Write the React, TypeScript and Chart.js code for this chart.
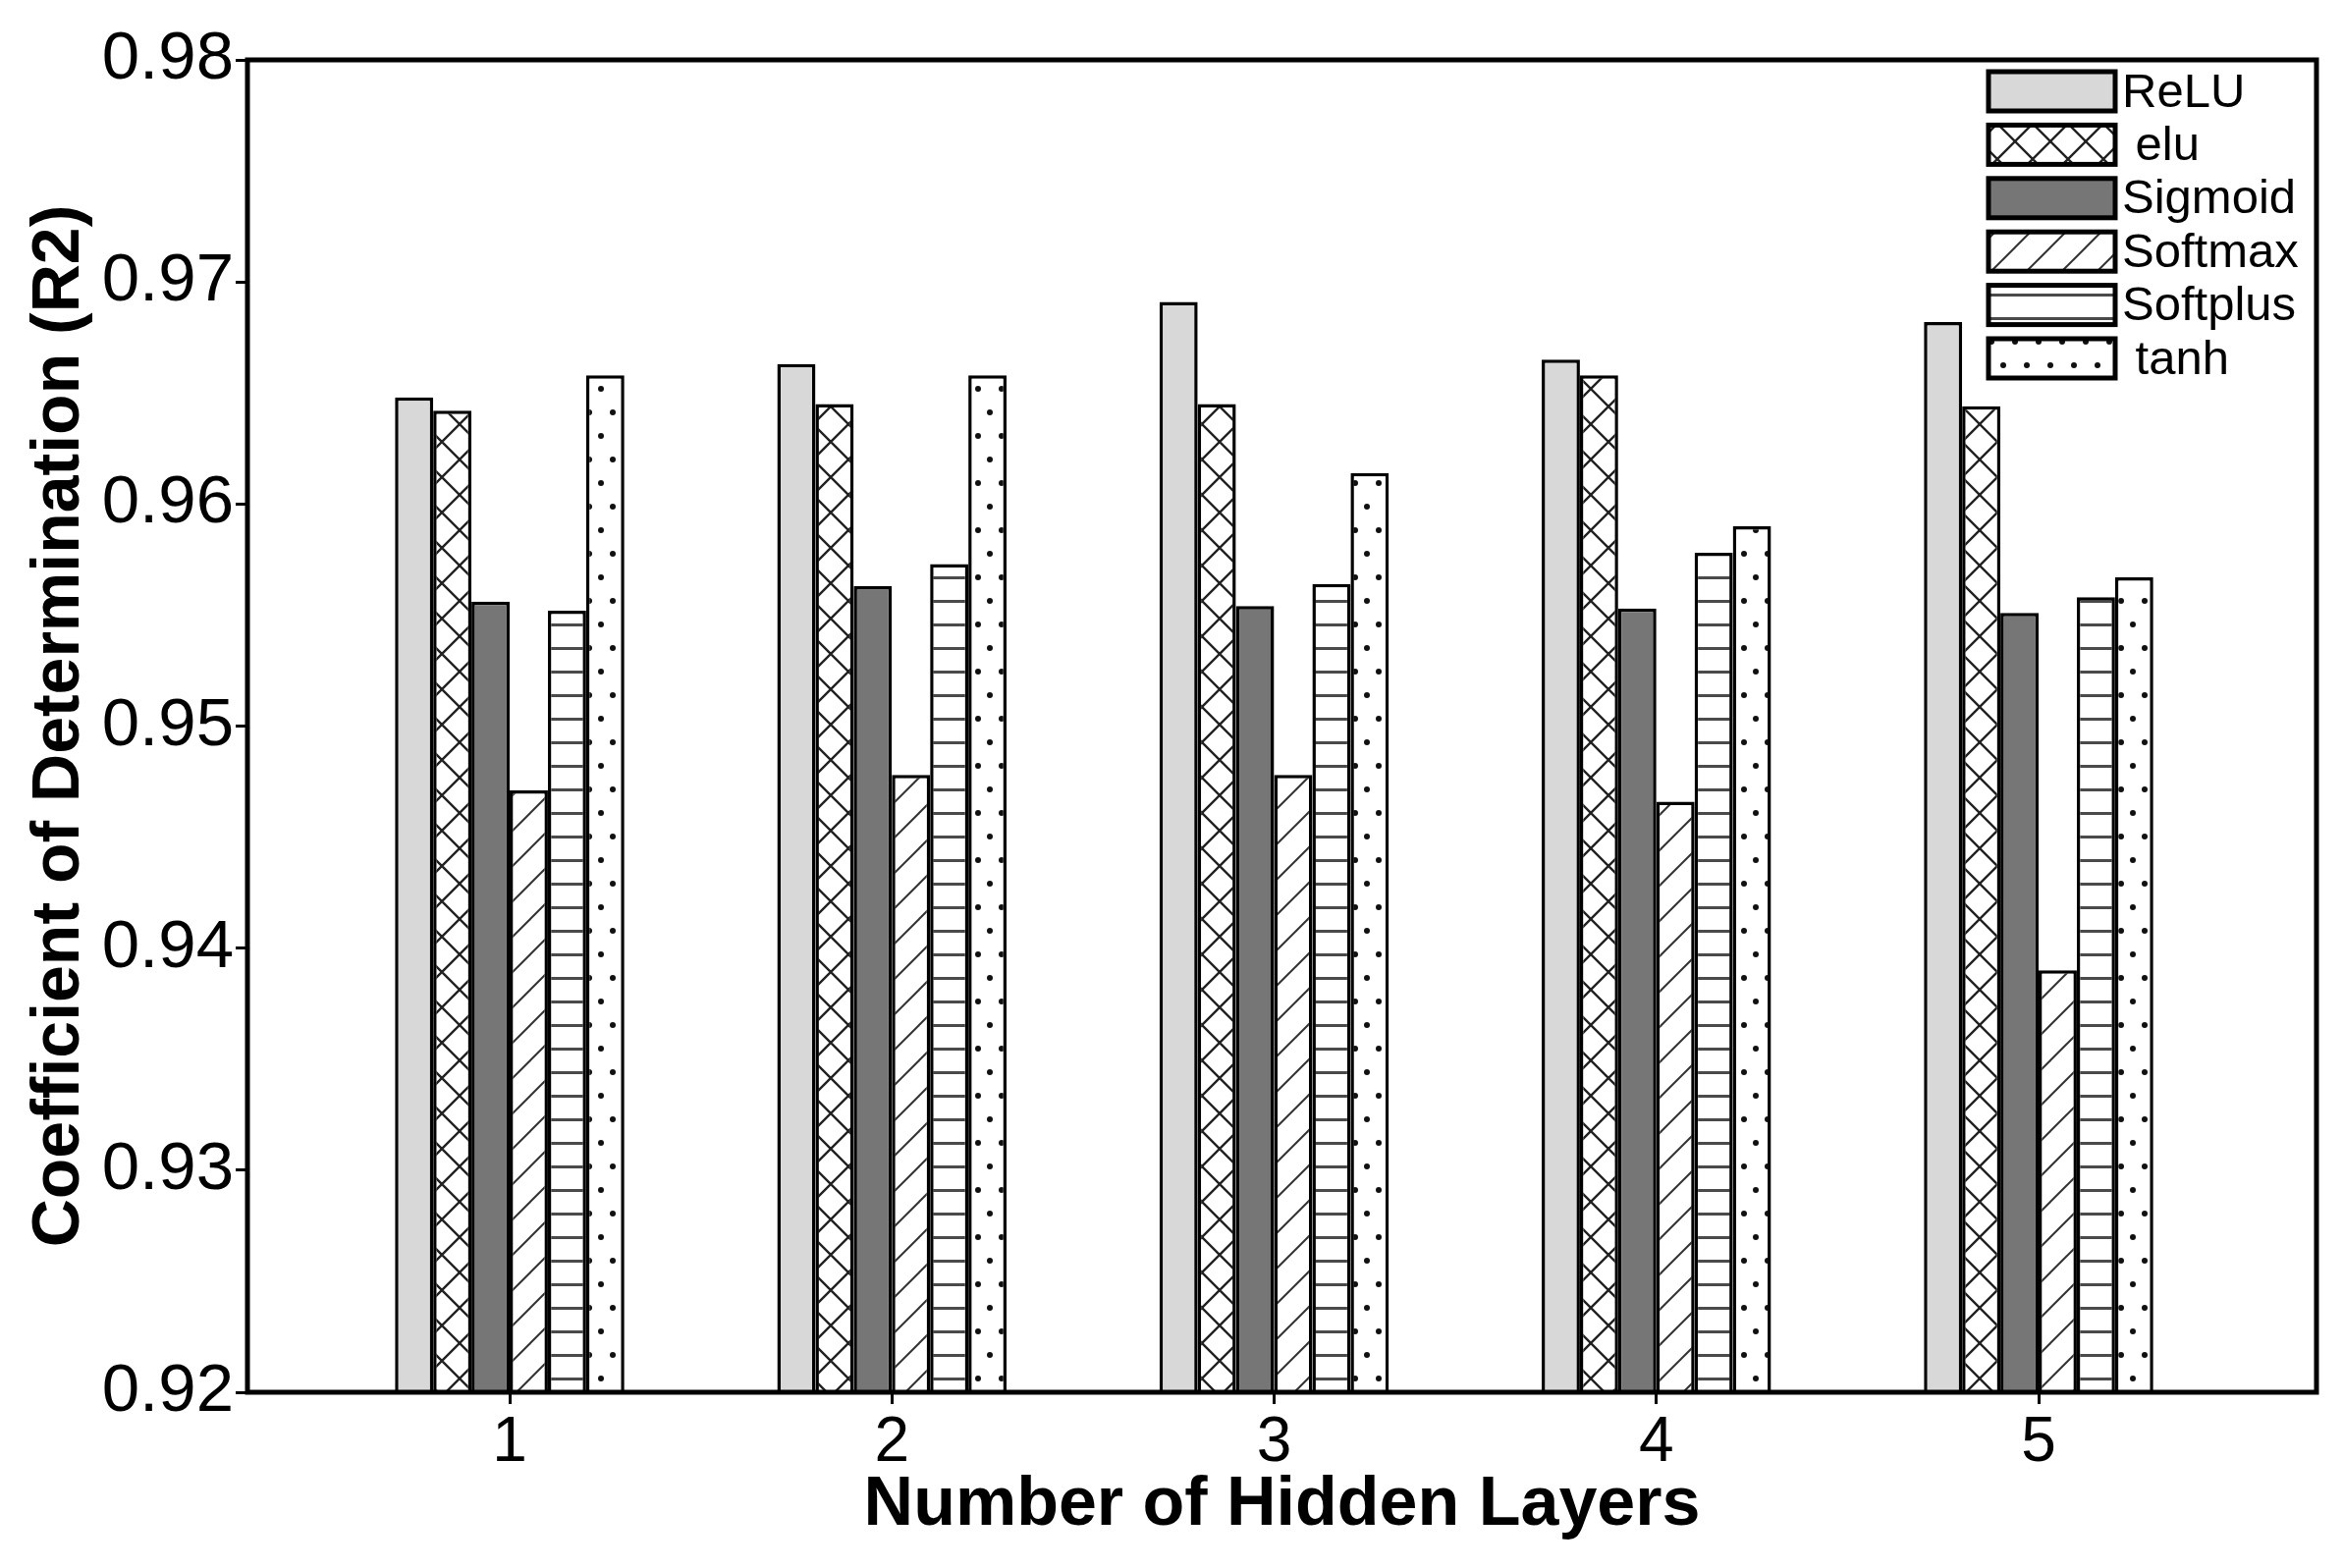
import React, { useEffect, useRef } from "react";
import { Chart, registerables } from "chart.js";

Chart.register(...registerables);

// ---- data ----
const hiddenLayers = [1, 2, 3, 4, 5];
const seriesNames = ["ReLU", " elu", "Sigmoid", "Softmax", "Softplus", " tanh"];
const reluVals = [0.9648, 0.9663, 0.9691, 0.9665, 0.9682];
const eluVals = [0.9642, 0.9645, 0.9645, 0.9658, 0.9644];
const sigmoidVals = [0.9556, 0.9563, 0.9554, 0.9553, 0.9551];
const softmaxVals = [0.9471, 0.9478, 0.9478, 0.9466, 0.939];
const softplusVals = [0.9552, 0.9573, 0.9564, 0.9578, 0.9558];
const tanhVals = [0.9658, 0.9658, 0.9614, 0.959, 0.9567];
const yTickValues = [0.92, 0.93, 0.94, 0.95, 0.96, 0.97, 0.98];
const xTitle = "Number of Hidden Layers";
const yTitle = "Coefficient of Determination (R2)";

const FONT = "'Liberation Sans', Arial, Helvetica, sans-serif";

function tile(w: number, h: number, draw: (c: CanvasRenderingContext2D) => void): CanvasPattern {
  const cv = document.createElement("canvas");
  cv.width = w;
  cv.height = h;
  const c = cv.getContext("2d")!;
  c.fillStyle = "#ffffff";
  c.fillRect(0, 0, w, h);
  draw(c);
  const ctx = document.createElement("canvas").getContext("2d")!;
  return ctx.createPattern(cv, "repeat")!;
}

function makeFills(): (string | CanvasPattern)[] {
  const cross = tile(36, 36, (c) => {
    c.strokeStyle = "#222222";
    c.lineWidth = 2.4;
    for (const o of [-36, 0, 36]) {
      c.beginPath();
      c.moveTo(o - 2, -2);
      c.lineTo(o + 38, 38);
      c.moveTo(o + 38, -2);
      c.lineTo(o - 2, 38);
      c.stroke();
    }
  });
  const diag = tile(36, 36, (c) => {
    c.strokeStyle = "#333333";
    c.lineWidth = 2;
    for (const o of [-36, 0, 36]) {
      c.beginPath();
      c.moveTo(o - 2, 38);
      c.lineTo(o + 38, -2);
      c.stroke();
    }
  });
  const hlines = tile(8, 24, (c) => {
    c.fillStyle = "#4a4a4a";
    c.fillRect(0, 11, 8, 3);
  });
  const dots = tile(24, 48, (c) => {
    c.fillStyle = "#111111";
    const pts = [
      [12, 12],
      [0, 36],
      [24, 36],
    ];
    for (const [x, y] of pts) {
      c.beginPath();
      c.arc(x, y, 3, 0, Math.PI * 2);
      c.fill();
    }
  });
  return ["#d8d8d8", cross, "#767676", diag, hlines, dots];
}

export default function App() {
  const ref = useRef<HTMLCanvasElement | null>(null);

  useEffect(() => {
    if (!ref.current) return;
    const fills = makeFills();
    const seriesVals = [reluVals, eluVals, sigmoidVals, softmaxVals, softplusVals, tanhVals];

    const datasets = seriesVals.map((vals, i) => ({
      label: seriesNames[i],
      data: hiddenLayers.map((x, j) => ({ x, y: vals[j] })),
      backgroundColor: fills[i] as any,
      borderColor: "#000000",
      borderWidth: 3.5,
      borderSkipped: false as any,
      categoryPercentage: 0.6,
      barPercentage: 1.0,
    }));

    const frameLegend = {
      id: "frameLegend",
      afterDatasetsDraw(chart: any) {
        const { ctx, chartArea: a } = chart;
        ctx.save();
        ctx.strokeStyle = "#000";
        ctx.lineWidth = 5;
        ctx.strokeRect(a.left, a.top, a.right - a.left, a.bottom - a.top);
        // legend
        const sx = a.right - 334;
        const sw = 129;
        const sh = 40;
        const step = 54.4;
        ctx.font = `49px ${FONT}`;
        ctx.textBaseline = "middle";
        ctx.textAlign = "left";
        seriesNames.forEach((name, i) => {
          const sy = a.top + 12 + i * step;
          ctx.fillStyle = fills[i];
          ctx.fillRect(sx, sy, sw, sh);
          ctx.lineWidth = 5;
          ctx.strokeStyle = "#000";
          ctx.strokeRect(sx, sy, sw, sh);
          ctx.fillStyle = "#000";
          ctx.fillText(name, sx + sw + 7, sy + sh / 2 + 2);
        });
        ctx.restore();
      },
    };

    const chart = new Chart(ref.current, {
      type: "bar",
      data: { datasets } as any,
      plugins: [frameLegend as any],
      options: {
        animation: false,
        responsive: false,
        devicePixelRatio: 1,
        layout: { padding: { top: 61, right: 27, left: 0, bottom: 0 } },
        plugins: {
          legend: { display: false },
          tooltip: { enabled: false },
          title: { display: false },
        },
        scales: {
          x: {
            type: "linear",
            min: 0.314,
            max: 5.727,
            offset: false,
            afterBuildTicks: (s: any) => {
              s.ticks = hiddenLayers.map((v) => ({ value: v }));
            },
            afterFit: (s: any) => {
              s.height = 179;
            },
            ticks: {
              color: "#000",
              font: { family: FONT, size: 64 },
              padding: 2,
              autoSkip: false,
              maxRotation: 0,
              callback: (v: any) => String(v),
            },
            grid: {
              display: true,
              offset: false,
              drawOnChartArea: false,
              drawTicks: true,
              tickLength: 12,
              tickWidth: 3,
              tickColor: "#000",
              color: "#000",
            },
            border: { display: false },
            title: {
              display: true,
              text: xTitle,
              color: "#000",
              font: { family: FONT, size: 70, weight: "bold" },
              padding: { top: 0, bottom: 21 },
            },
          },
          y: {
            type: "linear",
            min: 0.92,
            max: 0.98,
            afterBuildTicks: (s: any) => {
              s.ticks = yTickValues.map((v) => ({ value: v }));
            },
            afterFit: (s: any) => {
              s.width = 252;
            },
            ticks: {
              color: "#000",
              font: { family: FONT, size: 69 },
              padding: 2,
              callback: (v: any) => Number(v).toFixed(2),
            },
            grid: {
              display: true,
              offset: false,
              drawOnChartArea: false,
              drawTicks: true,
              tickLength: 12,
              tickWidth: 3,
              tickColor: "#000",
              color: "#000",
            },
            border: { display: false },
            title: {
              display: true,
              text: yTitle,
              color: "#000",
              font: { family: FONT, size: 68, weight: "bold" },
              padding: { top: 20, bottom: 0 },
            },
          },
        },
      } as any,
    });

    return () => {
      chart.destroy();
    };
  }, []);

  return (
    <div style={{ position: "absolute", left: 0, top: 0, width: 2386, height: 1597, background: "#fff" }}>
      <canvas ref={ref} width={2386} height={1597} style={{ display: "block", width: 2386, height: 1597 }} />
    </div>
  );
}
